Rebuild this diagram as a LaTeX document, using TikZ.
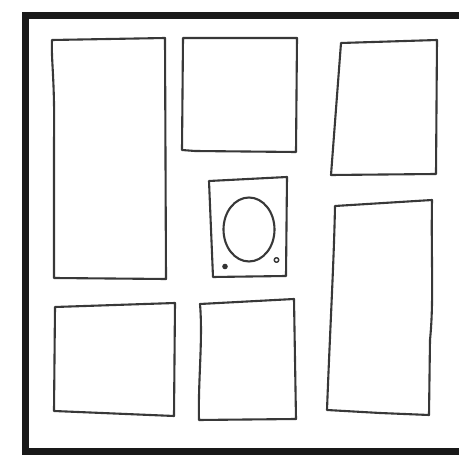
\documentclass[tikz,border=0pt]{standalone}
\begin{document}
\begin{tikzpicture}[x=1pt,y=-1pt,
  frame/.style={line width=7pt,black!90},
  panel/.style={line width=2.1pt,black!78,line join=round,line cap=round},
  dot/.style={fill=black!80}]
\useasboundingbox (0,0) rectangle (459,457);
\fill[white] (0,0) rectangle (459,457);
% outer frame (right side cut off)
\draw[frame] (462,16) -- (25.5,16) -- (25.5,451.5) -- (462,451.5);
% left tall panel
\draw[panel] (52,40) .. controls (51,60) and (55,80) .. (54,140) -- (54,278) -- (166,279) -- (165,38) -- cycle;
% top middle panel
\draw[panel] (183,38) -- (182,150) -- (195,151) -- (296,152) -- (297,38) -- cycle;
% top right panel
\draw[panel] (341,43) -- (437,40) -- (436,174) -- (331,175) -- cycle;
% center small box
\draw[panel] (209,181) -- (287,177) -- (286,276) -- (213,277) -- cycle;
\draw[panel] (249,229.5) ellipse [x radius=25.5, y radius=32];
\fill[dot] (225,266.5) circle (2.8);
\draw[panel,line width=1.5pt] (276.5,260) circle (2.3);
% right tall panel
\draw[panel] (335,206) -- (432,200) .. controls (431,260) and (434,300) .. (430,340) -- (429,415) -- (380,413) -- (327,410) .. controls (330,330) and (334,260) .. cycle;
% bottom left panel
\draw[panel] (55,307) -- (175,303) -- (174,416) -- (54,411) -- cycle;
% bottom middle panel
\draw[panel] (200,304) .. controls (203,340) and (198,380) .. (199,420) -- (296,419) -- (294,299) -- cycle;
\end{tikzpicture}
\end{document}
